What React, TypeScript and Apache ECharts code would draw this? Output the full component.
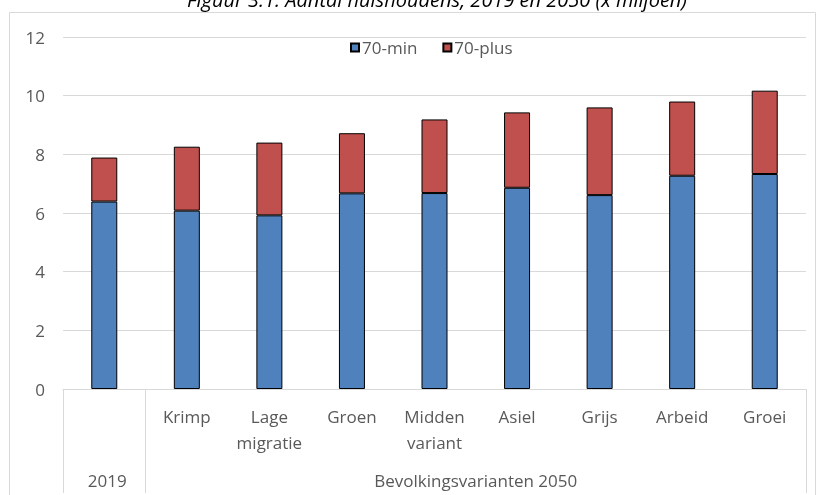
import React, { useEffect, useRef } from "react";
import * as echarts from "echarts";

const titleText = "Figuur 3.1: Aantal huishoudens, 2019 en 2050 (x miljoen)";
const level1Labels = ["", "Krimp", "Lage\nmigratie", "Groen", "Midden\nvariant", "Asiel", "Grijs", "Arbeid", "Groei"];
const groupLabels = ["2019", "Bevolkingsvarianten 2050"];
const groupFirstIndex = [0, 1];
const groupLastIndex = [0, 8];
const seriesNames = ["70-min", "70-plus"];
const values70min = [6.39, 6.08, 5.92, 6.67, 6.68, 6.86, 6.61, 7.27, 7.33];
const values70plus = [1.5, 2.18, 2.48, 2.05, 2.51, 2.57, 2.99, 2.53, 2.84];
const yTicks = { min: 0, max: 12, interval: 2 };

const FONT = "'Open Sans', sans-serif";
const GRAY = "#595959";
const LINE = "#d9d9d9";

export default function App() {
  const ref = useRef<HTMLDivElement>(null);
  useEffect(() => {
    if (!ref.current) return;
    const chart = echarts.init(ref.current, null, { renderer: "svg" });
    chart.setOption({
      animation: false,
      textStyle: { fontFamily: FONT },
      grid: { left: 63, right: 11, top: 37, bottom: 106 },
      legend: {
        top: 34,
        left: 345,
        itemWidth: 8,
        itemHeight: 8,
        itemGap: 25,
        icon: "rect",
        textStyle: { color: GRAY, fontSize: 17, fontFamily: FONT, padding: [0, 0, 0, -2] },
        data: seriesNames,
      },
      xAxis: {
        type: "category",
        data: level1Labels,
        boundaryGap: true,
        axisLine: { show: true, lineStyle: { color: LINE, width: 1 } },
        axisTick: {
          show: true,
          length: 104,
          lineStyle: { color: LINE, width: 1 },
          interval: (index: number) => index <= 1,
        },
        axisLabel: {
          color: GRAY,
          fontSize: 17,
          fontFamily: FONT,
          lineHeight: 26,
          margin: 14,
          interval: 0,
        },
      },
      yAxis: {
        type: "value",
        min: yTicks.min,
        max: yTicks.max,
        interval: yTicks.interval,
        axisLine: { show: false },
        axisTick: { show: false },
        axisLabel: { color: GRAY, fontSize: 17, fontFamily: FONT, margin: 18 },
        splitLine: { lineStyle: { color: LINE, width: 1 } },
      },
      series: [
        {
          name: seriesNames[0],
          type: "bar",
          stack: "total",
          data: values70min,
          barWidth: 26,
          itemStyle: { color: "#4f81bd", borderColor: "#000", borderWidth: 1 },
        },
        {
          name: seriesNames[1],
          type: "bar",
          stack: "total",
          data: values70plus,
          barWidth: 26,
          itemStyle: { color: "#c0504d", borderColor: "#000", borderWidth: 1 },
        },
      ],
    });

    const groupTexts = groupLabels.map((label, i) => {
      const a = chart.convertToPixel({ xAxisIndex: 0 }, groupFirstIndex[i]) as number;
      const b = chart.convertToPixel({ xAxisIndex: 0 }, groupLastIndex[i]) as number;
      return {
        type: "text",
        x: (a + b) / 2 + (i === 0 ? 3 : 0),
        y: 480,
        style: {
          text: label,
          fill: GRAY,
          font: `17px ${FONT}`,
          align: "center",
          verticalAlign: "middle",
        },
      };
    });

    chart.setOption({
      graphic: [
        {
          type: "rect",
          shape: { x: 9.5, y: 12.5, width: 806, height: 500 },
          style: { fill: "none", stroke: LINE, lineWidth: 1 },
          silent: true,
          z: -1,
        },
        {
          type: "text",
          x: 437,
          y: 9,
          style: {
            text: titleText,
            fill: "#000",
            font: `italic 20px ${FONT}`,
            align: "center",
            verticalAlign: "bottom",
          },
        },
        ...groupTexts,
      ],
    });

    return () => chart.dispose();
  }, []);
  return <div ref={ref} style={{ position: "fixed", left: 0, top: 0, width: 817, height: 495 }} />;
}
